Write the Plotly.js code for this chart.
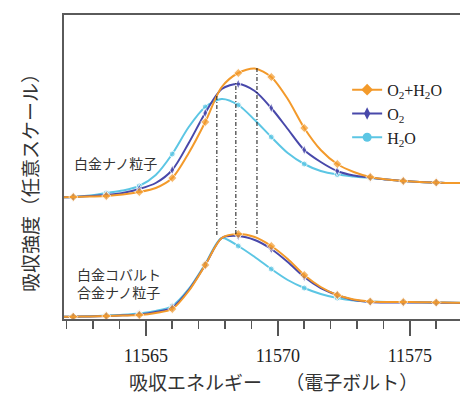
<!DOCTYPE html>
<html>
<head>
<meta charset="utf-8">
<script src="https://cdn.plot.ly/plotly-3.0.1.min.js"></script>
<style>html,body{margin:0;padding:0;background:#fff;}#chart{width:460px;height:394px;}</style>
</head>
<body>
<div id="chart"></div>
<script>
// Energy grid (eV)
const energy = [11561.625,11562.25,11562.875,11563.5,11564.125,11564.75,11565.375,11566.0,11566.625,11567.25,11567.875,11568.5,11569.125,11569.75,11570.375,11571.0,11571.625,11572.25,11572.875,11573.5,11574.125,11574.75,11575.375,11576.0,11576.625,11577.25];

// Pt nanoparticles (upper set, arbitrary units)
const ptO2H2O = [121.5,122,122.5,123,124.5,127,131,141,166,197,232,246,250.5,242,220,191,169,155,147,142,139.5,138,137,136.5,136,136];
const ptO2    = [121.5,122,123,124,126,130,136,149,176,206,230,235,228,211,190,169,157,148,143.5,141.5,139.5,138,137,136.5,136,136];
const ptH2O   = [121.5,122,123.5,126,128.5,133,144,165,192,212,220,214,199,182,166,155,148,144.5,142.5,141,139.5,138,137,136.5,136,136];

// PtCo alloy nanoparticles (lower set, arbitrary units)
const ptcoO2H2O = [2,2.3,2.6,3,3.5,4,6,10,28,54,81,85,82,73,60,44,32,24,19.5,17.5,17,17,16.8,16.5,16.3,16];
const ptcoO2    = [2,2.3,2.6,3,3.7,4.5,7,11.5,29,54,81,83,79,70,57,42,31,24,19,17,16.5,16.5,16.5,16.3,16.2,16];
const ptcoH2O   = [2,2.3,2.8,3.4,4.2,5.5,8,13,30,55,81,73,62,50,39,31,25,21,18.5,17.5,17,17,16.7,16.5,16.3,16];

// Peak guide lines (energy, top value, bottom value)
const guideE      = [11567.69, 11568.41, 11569.21];
const guideTop    = [224, 236, 251];
const guideBottom = [84, 85, 85];

const seriesNames = ['O<sub>2</sub>+H<sub>2</sub>O', 'O<sub>2</sub>', 'H<sub>2</sub>O'];
const groupLabels = ['白金ナノ粒子', '白金コバルト<br>合金ナノ粒子'];
const xTitle = '吸収エネルギー　 （電子ボルト）';
const yTitle = '吸収強度（任意スケール）';

const colors = {o2h2o:'#F39A2B', o2:'#4848AA', h2o:'#5CC6E4'};
const symbols = {o2h2o:'diamond', o2:'diamond-tall', h2o:'circle'};
const msize = {o2h2o:7, o2:7, h2o:6};

function sizes(n, s){ return Array.from({length:n}, (_, k) => (k % 2 === 1) ? s : 0); }

function curve(y, key){
  return {
    x: energy, y: y, type:'scatter', mode:'lines+markers', showlegend:false,
    line:{color:colors[key], width:2, shape:'spline', smoothing:0.8},
    marker:{color:colors[key], symbol:symbols[key], size:sizes(y.length, msize[key])},
    hoverinfo:'skip'
  };
}

const traces = [
  curve(ptH2O,'h2o'), curve(ptO2,'o2'), curve(ptO2H2O,'o2h2o'),
  curve(ptcoH2O,'h2o'), curve(ptcoO2,'o2'), curve(ptcoO2H2O,'o2h2o')
];

guideE.forEach((e, i) => {
  traces.push({
    x:[e, e], y:[guideBottom[i], guideTop[i]], type:'scatter', mode:'lines', showlegend:false,
    line:{color:'#111', width:1, dash:'4px,2px,1px,2px'}, hoverinfo:'skip'
  });
});

// legend entries
[['o2h2o',0],['o2',1],['h2o',2]].forEach(([k, i]) => {
  traces.push({
    x:[null], y:[null], type:'scatter', mode:'lines+markers', name:seriesNames[i],
    line:{color:colors[k], width:2}, marker:{color:colors[k], symbol:symbols[k], size:9}
  });
});

const layout = {
  width:460, height:394,
  margin:{l:64, r:0, t:15, b:75},
  paper_bgcolor:'#fff', plot_bgcolor:'#fff',
  showlegend:true,
  legend:{x:0.715, y:0.81, xanchor:'left', yanchor:'top', bgcolor:'rgba(0,0,0,0)',
    font:{family:'Liberation Serif', size:16, color:'#222'}, tracegroupgap:0},
  xaxis:{
    range:[11561.9, 11576.9], tick0:11565, dtick:5, tickformat:'d',
    ticks:'outside', ticklen:15, tickwidth:1.5, tickcolor:'#555',
    minor:{dtick:1, ticks:'outside', ticklen:8, tickwidth:1.5, tickcolor:'#555'},
    showline:true, linecolor:'#5a5a5a', linewidth:2, mirror:true,
    showgrid:false, zeroline:false,
    tickfont:{family:'Liberation Serif', size:18, color:'#222'},
    ticklabelstandoff:4
  },
  yaxis:{
    range:[0, 304], showticklabels:false, ticks:'', showgrid:false, zeroline:false,
    showline:true, linecolor:'#5a5a5a', linewidth:2
  },
  annotations:[
    {xref:'paper', yref:'paper', x:0.02, y:0.513, xanchor:'left', yanchor:'middle', showarrow:false,
     text:groupLabels[0], font:{family:'Noto Sans CJK JP', size:14, color:'#333'}},
    {xref:'paper', yref:'paper', x:0.028, y:0.12, xanchor:'left', yanchor:'middle', showarrow:false, align:'left',
     text:groupLabels[1], font:{family:'Noto Sans CJK JP', size:14, color:'#333'}},
    {xref:'paper', yref:'paper', x:0.528, y:-0.207, xanchor:'center', yanchor:'middle', showarrow:false,
     text:xTitle, font:{family:'Noto Sans CJK JP', size:19, color:'#333'}},
    {xref:'paper', yref:'paper', x:-0.086, y:0.464, xanchor:'center', yanchor:'middle', showarrow:false, textangle:-90,
     text:yTitle, font:{family:'Noto Sans CJK JP', size:19, color:'#333'}}
  ]
};

Plotly.newPlot('chart', traces, layout, {staticPlot:true});
</script>
</body>
</html>
